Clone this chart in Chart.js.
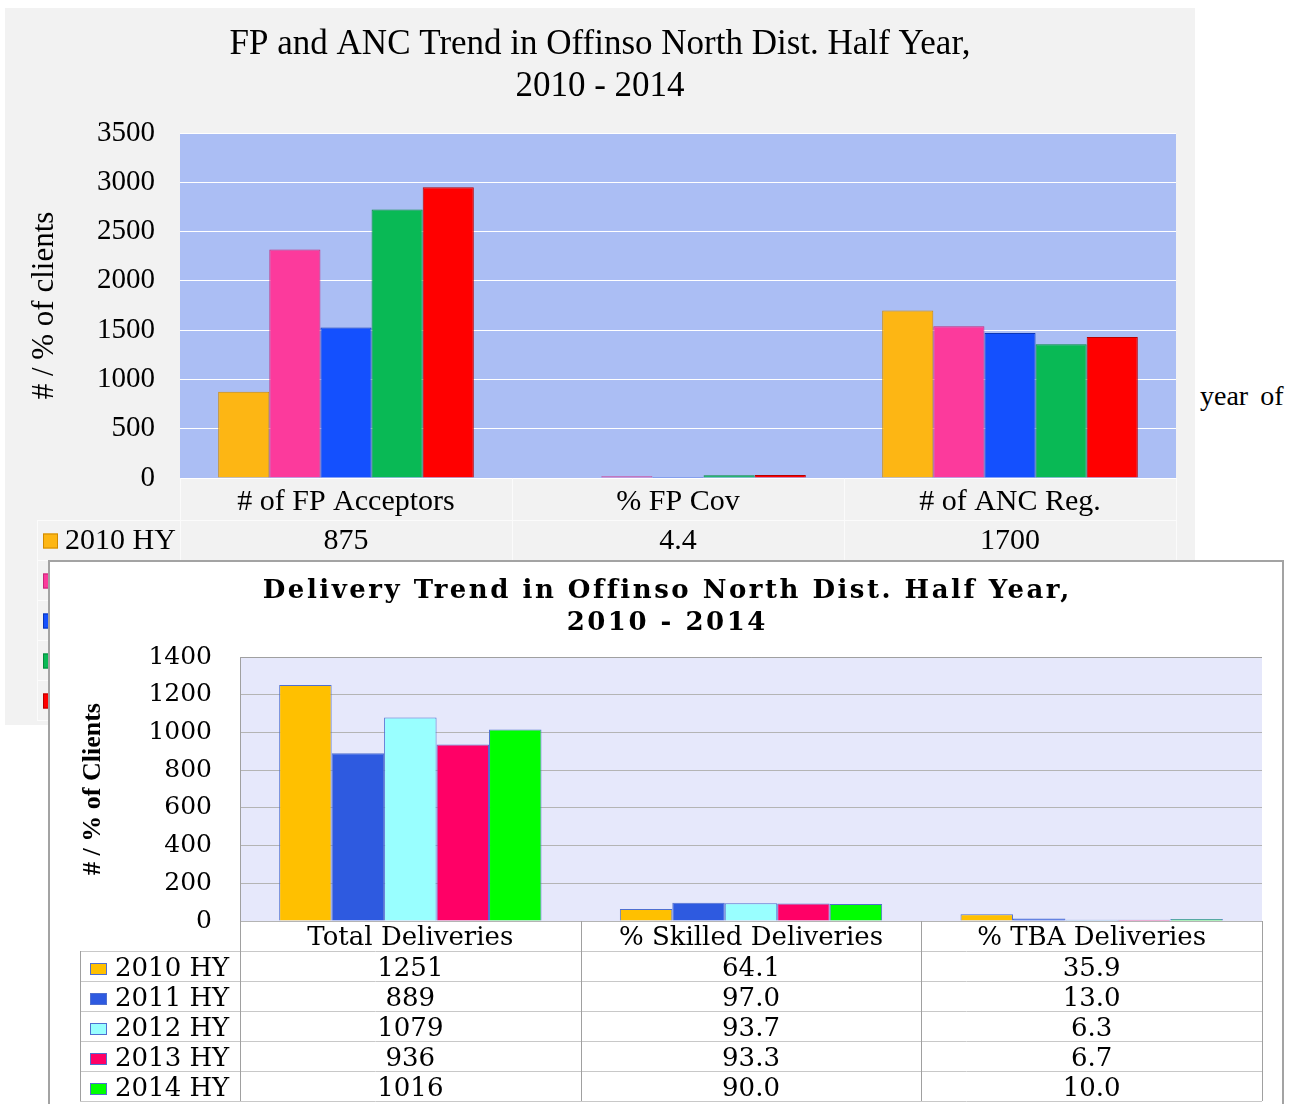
<!DOCTYPE html>
<html lang="en">
<head>
<meta charset="UTF-8" />
<title>FP, ANC and Delivery Trend - Offinso North</title>
<script src="https://cdn.jsdelivr.net/npm/chart.js"></script>
<style>
  html, body { margin: 0; padding: 0; background: #fff; overflow: hidden; width: 1304px; height: 1104px; }
  #panelTop { position: absolute; left: 5px; top: 8px; width: 1190px; height: 717px; background: #f2f2f2; }
  #panelBottom { position: absolute; left: 48px; top: 560px; width: 1232px; height: 580px; background: #fff; border: 2px solid #a3a3a3; }
  #stray { position: absolute; left: 1200px; top: 380px; font: 28px "Liberation Serif", serif; word-spacing: 5px; color: #000; }
  canvas { display: block; }
</style>
</head>
<body>
<div id="panelTop"><canvas id="fpChart" width="1190" height="717"></canvas></div>
<div id="stray">year of</div>
<div id="panelBottom"><canvas id="delChart" width="1232" height="542"></canvas></div>

<script>
// series (half years)
const seriesLabels = ['2010 HY', '2011 HY', '2012 HY', '2013 HY', '2014 HY'];

// top chart: FP and ANC
const fpTitle = ['FP and ANC Trend in Offinso North Dist. Half Year,', '2010 - 2014'];
const fpCategories = ['# of FP Acceptors', '% FP Cov', '# of ANC Reg.'];
const fp2010 = [875, 4.4, 1700];
const fp2011 = [2319, 19, 1539];
const fp2012 = [1526, 11, 1471];
const fp2013 = [2725, 28, 1356];
const fp2014 = [2949, 30, 1431];
const fpColors = ['#fdb614', '#fc3a9c', '#1450fe', '#09b955', '#ff0000'];
const fpEdges = ['#d08a00', '#c4287a', '#0a36b8', '#078a3e', '#b80000'];

// bottom chart: deliveries
const delTitle = ['Delivery Trend in Offinso North Dist. Half Year,', '2010 - 2014'];
const delCategories = ['Total Deliveries', '% Skilled Deliveries', '% TBA Deliveries'];
const del2010 = [1251, 64.1, 35.9];
const del2011 = [889, 97.0, 13.0];
const del2012 = [1079, 93.7, 6.3];
const del2013 = [936, 93.3, 6.7];
const del2014 = [1016, 90.0, 10.0];
const delColors = ['#ffc000', '#2e5ae0', '#99ffff', '#ff0066', '#00ff00'];

const fpSeries = [fp2010, fp2011, fp2012, fp2013, fp2014];
const delSeries = [del2010, del2011, del2012, del2013, del2014];

// fill the plot area
const plotBg = {
  id: 'plotBg',
  beforeDraw(chart, args, o) {
    const { ctx, chartArea: a } = chart;
    ctx.save();
    ctx.fillStyle = o.color;
    ctx.fillRect(a.left, a.top, a.right - a.left, a.bottom - a.top);
    ctx.restore();
  },
  afterDatasetsDraw(chart, args, o) {
    if (!o.border) return;
    const { ctx, chartArea: a } = chart;
    ctx.save();
    ctx.strokeStyle = o.border;
    ctx.lineWidth = 1;
    ctx.beginPath();
    ctx.moveTo(a.left + 0.5, a.bottom);
    ctx.lineTo(a.left + 0.5, a.top + 0.5);
    ctx.lineTo(a.right, a.top + 0.5);
    ctx.stroke();
    ctx.restore();
  }
};

// title with wide letter spacing (bottom chart)
const spacedTitle = {
  id: 'spacedTitle',
  afterDraw(chart, args, o) {
    if (!o.lines) return;
    const ctx = chart.ctx;
    ctx.save();
    ctx.font = o.font;
    ctx.fillStyle = '#000';
    ctx.textAlign = 'center';
    ctx.textBaseline = 'middle';
    ctx.letterSpacing = o.spacing + 'px';
    o.lines.forEach((t, i) => ctx.fillText(t, chart.width / 2 + o.spacing / 2, o.top + i * o.lineHeight));
    ctx.letterSpacing = '0px';
    ctx.restore();
  }
};

// data table under the x axis
const dataTable = {
  id: 'dataTable',
  afterDraw(chart, args, o) {
    const { ctx, chartArea: a, scales: { x } } = chart;
    const ds = chart.data.datasets;
    const n = chart.data.labels.length;
    const step = (a.right - a.left) / n;
    const firstRow = a.bottom + o.headHeight;
    const end = firstRow + ds.length * o.rowHeight;
    ctx.save();
    ctx.lineWidth = 1;
    ctx.strokeStyle = o.hLine;
    for (let i = 0; i <= ds.length; i++) {
      const y = Math.round(firstRow + i * o.rowHeight) + 0.5;
      ctx.beginPath(); ctx.moveTo(o.left, y); ctx.lineTo(a.right, y); ctx.stroke();
    }
    ctx.strokeStyle = o.vLine;
    for (let j = 0; j <= n; j++) {
      const xx = Math.round(a.left + j * step) + 0.5;
      ctx.beginPath(); ctx.moveTo(xx, a.bottom); ctx.lineTo(xx, end); ctx.stroke();
    }
    ctx.beginPath(); ctx.moveTo(o.left + 0.5, firstRow); ctx.lineTo(o.left + 0.5, end); ctx.stroke();

    ctx.font = o.font;
    ctx.textBaseline = 'middle';
    ds.forEach((d, i) => {
      const cy = firstRow + i * o.rowHeight + o.rowHeight / 2 + o.shift;
      ctx.fillStyle = d.backgroundColor;
      ctx.fillRect(o.swatchX, cy - o.swatchH / 2, o.swatchW, o.swatchH);
      ctx.strokeStyle = o.swatchBorder || d.borderColor;
      ctx.strokeRect(o.swatchX + 0.5, cy - o.swatchH / 2 + 0.5, o.swatchW - 1, o.swatchH - 1);
      ctx.fillStyle = '#000';
      ctx.textAlign = 'left';
      ctx.fillText(d.label, o.labelX, cy);
      ctx.textAlign = 'center';
      d.data.forEach((v, j) => ctx.fillText(o.format(v, j), x.getPixelForValue(j), cy));
    });
    ctx.restore();
  }
};

new Chart(document.getElementById('fpChart'), {
  type: 'bar',
  data: {
    labels: fpCategories,
    datasets: fpSeries.map((vals, i) => ({
      label: seriesLabels[i], data: vals,
      backgroundColor: fpColors[i], borderColor: fpEdges[i], borderWidth: 1
    }))
  },
  options: {
    responsive: false,
    animation: false,
    layout: { padding: { left: 19, right: 19, top: 0, bottom: 0 } },
    datasets: { bar: { barPercentage: 1, categoryPercentage: 0.77 } },
    plugins: {
      legend: { display: false },
      tooltip: { enabled: false },
      title: {
        display: true,
        text: fpTitle,
        color: '#000',
        font: { family: 'Liberation Serif', size: 35, weight: 'normal', lineHeight: 42 / 35 },
        padding: { top: 16, bottom: 25 }
      },
      plotBg: { color: '#abbef4' },
      dataTable: {
        headHeight: 42, rowHeight: 40, left: 32, shift: 1,
        swatchX: 38, swatchW: 15, swatchH: 15, labelX: 60,
        font: '30px "Liberation Serif"', hLine: '#fbfbfb', vLine: '#fbfbfb',
        format: (v, j) => j === 1 ? v.toFixed(1) : String(Math.round(v))
      }
    },
    scales: {
      x: {
        grid: { display: false, drawTicks: false },
        border: { display: false },
        ticks: { color: '#000', padding: 6, font: { family: 'Liberation Serif', size: 30 } },
        afterFit(s) { s.height = 247; }
      },
      y: {
        min: 0, max: 3500,
        grid: { color: '#ffffff', drawTicks: false },
        border: { display: false },
        ticks: {
          stepSize: 500, color: '#000', padding: 25, font: { family: 'Liberation Serif', size: 29 },
          callback: v => String(v)
        },
        title: {
          display: true, text: '# / % of clients', color: '#000',
          font: { family: 'Liberation Serif', size: 31 }, padding: { top: 2, bottom: 0 }
        },
        afterFit(s) { s.width = 156; }
      }
    }
  },
  plugins: [plotBg, dataTable]
});

new Chart(document.getElementById('delChart'), {
  type: 'bar',
  data: {
    labels: delCategories,
    datasets: delSeries.map((vals, i) => ({
      label: seriesLabels[i], data: vals,
      backgroundColor: delColors[i], borderColor: '#4f6fd0', borderWidth: 1
    }))
  },
  options: {
    responsive: false,
    animation: false,
    layout: { padding: { left: 20, right: 20, top: 95, bottom: 0 } },
    datasets: { bar: { barPercentage: 1, categoryPercentage: 0.77 } },
    plugins: {
      legend: { display: false },
      tooltip: { enabled: false },
      title: { display: false },
      spacedTitle: { lines: delTitle, font: 'bold 26px "DejaVu Serif"', spacing: 2.5, top: 29, lineHeight: 32 },
      plotBg: { color: '#e6e8fb', border: '#a0a0a0' },
      dataTable: {
        headHeight: 30, rowHeight: 30, left: 30, shift: 3,
        swatchX: 40, swatchW: 17, swatchH: 12, labelX: 65,
        font: '26px "DejaVu Serif"', hLine: '#c8c8c8', vLine: '#a0a0a0', swatchBorder: '#4f6fd0',
        format: (v, j) => j === 0 ? String(v) : v.toFixed(1)
      }
    },
    scales: {
      x: {
        grid: { display: false, drawTicks: false },
        border: { display: false },
        ticks: { color: '#000', padding: 2, font: { family: 'DejaVu Serif', size: 26 } },
        afterFit(s) { s.height = 183; }
      },
      y: {
        min: 0, max: 1400,
        grid: { color: '#b4b4b4', drawTicks: false },
        border: { display: false },
        ticks: {
          stepSize: 200, color: '#000', padding: 28, font: { family: 'DejaVu Serif', size: 25 },
          callback: v => String(v)
        },
        title: {
          display: true, text: '# / % of Clients', color: '#000',
          font: { family: 'Liberation Serif', size: 26, weight: 'bold' }, padding: { top: 8, bottom: 0 }
        },
        afterFit(s) { s.width = 170; }
      }
    }
  },
  plugins: [plotBg, spacedTitle, dataTable]
});
</script>
</body>
</html>
